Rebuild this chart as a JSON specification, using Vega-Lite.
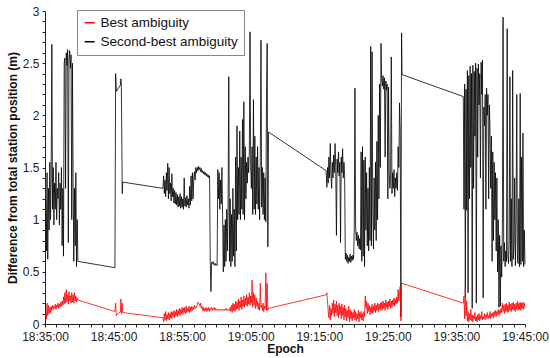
{
"$schema":"https://vega.github.io/schema/vega-lite/v6.json",
"width":480,"height":313,
"autosize":{"type":"none"},
"padding":{"left":45,"top":11,"right":25,"bottom":34},
"config":{"view":{"stroke":null},"font":"Liberation Sans",
"axis":{"labelFont":"Liberation Sans","labelFontSize":12,"labelColor":"#222","titleFont":"Liberation Sans","titleFontSize":12,"titleFontWeight":"bold","titleColor":"#111","domainColor":"#222","tickColor":"#222","tickSize":3,"grid":false,"labelPadding":3}},
"data":{"values":[
{"s":6,"k":1.2,"r":0.12},{"s":12,"k":0.7,"r":0.05},{"s":18,"k":1.45,"r":0.2},{"s":24,"k":0.62,"r":0.08},{"s":30,"k":1.3,"r":0.18},{"s":36,"k":0.9,"r":0.1},{"s":42,"k":1.55,"r":0.16},{"s":48,"k":1.0,"r":0.11},{"s":54,"k":1.4,"r":0.17},{"s":60,"k":2.68,"r":0.13},{"s":66,"k":1.1,"r":0.18},{"s":72,"k":1.5,"r":0.14},{"s":78,"k":0.95,"r":0.17},{"s":84,"k":1.35,"r":0.15},{"s":90,"k":1.1,"r":0.19},{"s":96,"k":1.55,"r":0.14},{"s":102,"k":1.0,"r":0.18},{"s":108,"k":1.3,"r":0.16},{"s":114,"k":1.2,"r":0.2},{"s":120,"k":1.45,"r":0.15},{"s":126,"k":0.95,"r":0.19},{"s":132,"k":1.35,"r":0.16},{"s":138,"k":1.1,"r":0.21},{"s":144,"k":1.5,"r":0.17},{"s":150,"k":0.75,"r":0.22},{"s":156,"k":1.3,"r":0.18},{"s":162,"k":0.65,"r":0.26},{"s":168,"k":2.5,"r":0.19},{"s":174,"k":2.55,"r":0.3},{"s":180,"k":1.3,"r":0.2},{"s":186,"k":2.6,"r":0.33},{"s":192,"k":2.48,"r":0.21},{"s":198,"k":2.63,"r":0.28},{"s":204,"k":0.78,"r":0.19},{"s":210,"k":2.55,"r":0.31},{"s":216,"k":2.62,"r":0.22},{"s":222,"k":2.45,"r":0.27},{"s":228,"k":2.58,"r":0.2},{"s":234,"k":1.0,"r":0.3},{"s":240,"k":2.5,"r":0.21},{"s":246,"k":1.4,"r":0.28},{"s":252,"k":0.6,"r":0.2},{"s":258,"k":1.3,"r":0.3},{"s":264,"k":0.75,"r":0.22},{"s":270,"k":1.45,"r":0.27},{"s":276,"k":0.55,"r":0.21},{"s":282,"k":1.0,"r":0.25},{"s":288,"k":0.6,"r":0.23},
{"s":612,"k":0.54,"r":0.12},{"s":618,"k":2.4,"r":0.2},{"s":624,"k":2.23,"r":0.08},{"s":660,"k":2.29,"r":0.12},{"s":664,"k":2.35,"r":0.24},{"s":668,"k":2.3,"r":0.1},{"s":676,"k":1.25,"r":0.2},{"s":680,"k":1.36,"r":0.11},
{"s":1032,"k":1.3,"r":0.06},{"s":1038,"k":1.42,"r":0.02},{"s":1044,"k":1.25,"r":0.1},{"s":1050,"k":1.38,"r":0.04},{"s":1056,"k":1.22,"r":0.12},{"s":1062,"k":1.45,"r":0.03},{"s":1068,"k":1.28,"r":0.09},{"s":1074,"k":1.54,"r":0.05},{"s":1080,"k":1.2,"r":0.11},{"s":1086,"k":1.5,"r":0.04},{"s":1092,"k":1.25,"r":0.1},{"s":1098,"k":1.35,"r":0.06},{"s":1104,"k":1.18,"r":0.12},{"s":1110,"k":1.44,"r":0.05},{"s":1116,"k":1.22,"r":0.11},{"s":1122,"k":1.3,"r":0.07},{"s":1128,"k":1.16,"r":0.13},{"s":1134,"k":1.28,"r":0.06},{"s":1140,"k":1.15,"r":0.12},{"s":1146,"k":1.26,"r":0.08},{"s":1152,"k":1.14,"r":0.14},{"s":1158,"k":1.24,"r":0.07},{"s":1164,"k":1.12,"r":0.13},{"s":1170,"k":1.22,"r":0.09},{"s":1176,"k":1.13,"r":0.15},{"s":1182,"k":1.25,"r":0.08},{"s":1188,"k":1.11,"r":0.14},{"s":1194,"k":1.22,"r":0.1},{"s":1200,"k":1.12,"r":0.16},{"s":1206,"k":1.2,"r":0.09},{"s":1212,"k":1.1,"r":0.15},{"s":1218,"k":1.4,"r":0.11},{"s":1224,"k":1.13,"r":0.16},{"s":1230,"k":1.21,"r":0.1},{"s":1236,"k":1.12,"r":0.17},{"s":1242,"k":1.23,"r":0.11},{"s":1248,"k":1.14,"r":0.15},{"s":1254,"k":1.2,"r":0.12},{"s":1260,"k":1.11,"r":0.17},{"s":1266,"k":1.32,"r":0.11},{"s":1272,"k":1.14,"r":0.16},{"s":1278,"k":1.42,"r":0.12},{"s":1284,"k":1.18,"r":0.17},{"s":1290,"k":1.45,"r":0.13},{"s":1296,"k":1.2,"r":0.16},{"s":1302,"k":1.4,"r":0.14},{"s":1308,"k":1.46,"r":0.18},{"s":1314,"k":1.38,"r":0.15},{"s":1320,"k":1.5,"r":0.17},{"s":1326,"k":1.45,"r":0.16},{"s":1332,"k":1.5,"r":0.18},{"s":1338,"k":1.47,"r":0.21},{"s":1344,"k":1.51,"r":0.2},{"s":1350,"k":1.48,"r":0.19},{"s":1356,"k":1.5,"r":0.17},{"s":1362,"k":1.46,"r":0.2},{"s":1368,"k":1.49,"r":0.15},{"s":1374,"k":1.45,"r":0.17},{"s":1380,"k":1.47,"r":0.13},{"s":1386,"k":1.44,"r":0.16},{"s":1392,"k":1.46,"r":0.12},{"s":1398,"k":1.43,"r":0.15},{"s":1404,"k":1.45,"r":0.13},{"s":1410,"k":1.42,"r":0.16},{"s":1416,"k":1.44,"r":0.12},{"s":1422,"k":1.41,"r":0.15},{"s":1428,"k":1.43,"r":0.13},{"s":1434,"k":1.4,"r":0.16},{"s":1440,"k":1.42,"r":0.12},{"s":1446,"k":0.6,"r":0.15},{"s":1452,"k":0.31,"r":0.14},{"s":1458,"k":0.59,"r":0.16},{"s":1464,"k":0.58,"r":0.13},{"s":1470,"k":0.6,"r":0.15},{"s":1476,"k":0.57,"r":0.14},{"s":1482,"k":0.58,"r":0.16},{"s":1488,"k":0.56,"r":0.13},{"s":1494,"k":0.58,"r":0.15},{"s":1500,"k":0.57,"r":0.14},{"s":1506,"k":0.56,"r":0.13},{"s":1512,"k":1.48,"r":0.14},{"s":1518,"k":1.2,"r":0.13},{"s":1524,"k":1.45,"r":0.14},{"s":1530,"k":1.1,"r":0.13},{"s":1536,"k":1.38,"r":0.14},{"s":1542,"k":1.15,"r":0.13},{"s":1548,"k":1.5,"r":0.14},{"s":1554,"k":1.05,"r":0.13},{"s":1560,"k":0.5,"r":0.14},{"s":1566,"k":0.95,"r":0.13},{"s":1572,"k":0.55,"r":0.14},{"s":1578,"k":1.0,"r":0.13},{"s":1584,"k":0.6,"r":0.15},{"s":1590,"k":1.1,"r":0.13},{"s":1596,"k":0.7,"r":0.14},{"s":1602,"k":1.15,"r":0.13},{"s":1608,"k":2.37,"r":0.14},{"s":1614,"k":0.6,"r":0.13},{"s":1620,"k":1.2,"r":0.16},{"s":1626,"k":0.55,"r":0.12},{"s":1632,"k":1.05,"r":0.18},{"s":1638,"k":0.6,"r":0.11},{"s":1644,"k":1.3,"r":0.2},{"s":1650,"k":0.65,"r":0.13},{"s":1656,"k":1.1,"r":0.19},{"s":1662,"k":0.55,"r":0.12},{"s":1668,"k":1.6,"r":0.22},{"s":1674,"k":0.7,"r":0.14},{"s":1680,"k":1.9,"r":0.21},{"s":1686,"k":1.0,"r":0.15},{"s":1692,"k":1.5,"r":0.24},{"s":1698,"k":1.05,"r":0.13},{"s":1704,"k":1.85,"r":0.22},{"s":1710,"k":1.0,"r":0.16},{"s":1716,"k":1.6,"r":0.26},{"s":1722,"k":1.1,"r":0.14},{"s":1728,"k":1.96,"r":0.23},{"s":1734,"k":1.05,"r":0.17},{"s":1740,"k":2.13,"r":0.27},{"s":1746,"k":1.0,"r":0.16},{"s":1752,"k":1.7,"r":0.25},{"s":1758,"k":1.2,"r":0.18},{"s":1764,"k":1.55,"r":0.28},{"s":1770,"k":1.35,"r":0.17},{"s":1776,"k":1.6,"r":0.26},{"s":1782,"k":1.45,"r":0.19},{"s":1788,"k":1.65,"r":0.3},{"s":1794,"k":2.8,"r":0.18},{"s":1800,"k":1.5,"r":0.27},{"s":1806,"k":1.3,"r":0.2},{"s":1812,"k":1.7,"r":0.42},{"s":1818,"k":1.05,"r":0.16},{"s":1824,"k":2.15,"r":0.3},{"s":1830,"k":1.1,"r":0.18},{"s":1836,"k":1.8,"r":0.28},{"s":1842,"k":1.05,"r":0.15},{"s":1848,"k":1.6,"r":0.25},{"s":1854,"k":1.15,"r":0.17},{"s":1860,"k":1.7,"r":0.22},{"s":1866,"k":1.1,"r":0.14},{"s":1872,"k":1.5,"r":0.2},{"s":1878,"k":1.0,"r":0.13},{"s":1884,"k":1.65,"r":0.39},{"s":1890,"k":2.72,"r":0.16},{"s":1896,"k":1.12,"r":0.18},{"s":1902,"k":1.5,"r":0.13},{"s":1908,"k":1.05,"r":0.2},{"s":1914,"k":1.45,"r":0.12},{"s":1920,"k":1.0,"r":0.17},{"s":1926,"k":1.4,"r":0.14},{"s":1932,"k":0.98,"r":0.49},{"s":1938,"k":2.15,"r":0.13},{"s":1944,"k":2.69,"r":0.39},{"s":1950,"k":0.74,"r":0.13},{"s":1956,"k":1.84,"r":0.15},
{"s":2460,"k":1.47,"r":0.28},{"s":2466,"k":1.31,"r":0.3},{"s":2472,"k":1.5,"r":0.22},{"s":2478,"k":1.35,"r":0.12},{"s":2484,"k":1.6,"r":0.06},{"s":2490,"k":1.4,"r":0.18},{"s":2496,"k":1.73,"r":0.04},{"s":2502,"k":1.45,"r":0.15},{"s":2508,"k":1.3,"r":0.08},{"s":2514,"k":1.55,"r":0.2},{"s":2520,"k":1.4,"r":0.1},{"s":2526,"k":1.62,"r":0.23},{"s":2532,"k":1.45,"r":0.07},{"s":2538,"k":1.73,"r":0.19},{"s":2544,"k":1.5,"r":0.11},{"s":2550,"k":0.85,"r":0.22},{"s":2556,"k":1.58,"r":0.08},{"s":2562,"k":1.45,"r":0.18},{"s":2568,"k":1.65,"r":0.06},{"s":2574,"k":1.42,"r":0.2},{"s":2580,"k":1.55,"r":0.09},{"s":2586,"k":0.78,"r":0.17},{"s":2592,"k":1.6,"r":0.05},{"s":2598,"k":1.45,"r":0.19},{"s":2604,"k":1.68,"r":0.08},{"s":2610,"k":1.4,"r":0.16},{"s":2616,"k":1.55,"r":0.04},{"s":2622,"k":1.42,"r":0.18},{"s":2628,"k":0.62,"r":0.07},{"s":2634,"k":0.68,"r":0.15},{"s":2640,"k":0.6,"r":0.03},{"s":2646,"k":0.66,"r":0.13},{"s":2652,"k":0.58,"r":0.06},{"s":2658,"k":0.64,"r":0.17},{"s":2664,"k":0.6,"r":0.02},{"s":2670,"k":0.67,"r":0.14},{"s":2676,"k":0.59,"r":0.05},{"s":2682,"k":0.65,"r":0.12},{"s":2688,"k":0.61,"r":0.03},{"s":2694,"k":0.66,"r":0.11},{"s":2700,"k":0.62,"r":0.06},{"s":2706,"k":0.9,"r":0.14},{"s":2712,"k":2.26,"r":0.04},{"s":2718,"k":0.93,"r":0.12},{"s":2724,"k":0.8,"r":0.03},{"s":2730,"k":0.88,"r":0.1},{"s":2736,"k":0.75,"r":0.05},{"s":2742,"k":0.85,"r":0.13},{"s":2748,"k":0.72,"r":0.02},{"s":2754,"k":0.82,"r":0.11},{"s":2760,"k":0.71,"r":0.06},{"s":2766,"k":1.65,"r":0.12},{"s":2772,"k":0.6,"r":0.04},{"s":2778,"k":1.7,"r":0.1},{"s":2784,"k":0.65,"r":0.03},{"s":2790,"k":1.57,"r":0.12},{"s":2796,"k":0.55,"r":0.07},{"s":2802,"k":1.6,"r":0.27},{"s":2808,"k":0.9,"r":0.15},{"s":2814,"k":1.45,"r":0.22},{"s":2820,"k":0.75,"r":0.1},{"s":2826,"k":1.3,"r":0.2},{"s":2832,"k":0.7,"r":0.12},{"s":2838,"k":1.5,"r":0.18},{"s":2844,"k":0.8,"r":0.09},{"s":2850,"k":2.66,"r":0.16},{"s":2856,"k":0.75,"r":0.11},{"s":2862,"k":2.61,"r":0.19},{"s":2868,"k":1.1,"r":0.1},{"s":2874,"k":0.72,"r":0.17},{"s":2880,"k":1.4,"r":0.12},{"s":2886,"k":0.9,"r":0.2},{"s":2892,"k":1.55,"r":0.11},{"s":2898,"k":0.8,"r":0.18},{"s":2904,"k":1.75,"r":0.13},{"s":2910,"k":1.0,"r":0.2},{"s":2916,"k":2.0,"r":0.12},{"s":2922,"k":1.2,"r":0.19},{"s":2928,"k":2.3,"r":0.14},{"s":2934,"k":1.5,"r":0.2},{"s":2940,"k":2.69,"r":0.13},{"s":2946,"k":2.35,"r":0.21},{"s":2952,"k":2.28,"r":0.14},{"s":2958,"k":2.38,"r":0.22},{"s":2964,"k":2.25,"r":0.15},{"s":2970,"k":2.36,"r":0.2},{"s":2976,"k":1.6,"r":0.13},{"s":2982,"k":2.33,"r":0.23},{"s":2988,"k":2.24,"r":0.16},{"s":2994,"k":2.3,"r":0.21},{"s":3000,"k":1.2,"r":0.14},{"s":3006,"k":2.27,"r":0.22},{"s":3012,"k":1.45,"r":0.17},{"s":3018,"k":1.3,"r":0.24},{"s":3024,"k":1.42,"r":0.15},{"s":3030,"k":2.56,"r":0.22},{"s":3036,"k":1.25,"r":0.16},{"s":3042,"k":1.45,"r":0.23},{"s":3048,"k":1.3,"r":0.18},{"s":3054,"k":1.48,"r":0.25},{"s":3060,"k":1.22,"r":0.17},{"s":3066,"k":1.4,"r":0.24},{"s":3072,"k":1.3,"r":0.19},{"s":3078,"k":1.45,"r":0.26},{"s":3084,"k":1.28,"r":0.2},{"s":3090,"k":1.7,"r":0.33},{"s":3096,"k":1.5,"r":0.22},{"s":3102,"k":2.12,"r":0.28},{"s":3108,"k":1.85,"r":0.36},{"s":3114,"k":0.07,"r":0.03},{"s":3120,"k":2.79,"r":0.39},{"s":3124,"k":2.39,"r":0.39},
{"s":3660,"k":2.18,"r":0.2},{"s":3666,"k":1.1,"r":0.27},{"s":3672,"k":2.3,"r":0.05},{"s":3678,"k":0.26,"r":0.35},{"s":3684,"k":2.25,"r":0.08},{"s":3690,"k":1.09,"r":0.22},{"s":3696,"k":2.43,"r":0.03},{"s":3702,"k":0.3,"r":0.12},{"s":3708,"k":2.38,"r":0.02},{"s":3714,"k":1.2,"r":0.1},{"s":3720,"k":2.47,"r":0.04},{"s":3726,"k":1.5,"r":0.14},{"s":3732,"k":2.4,"r":0.03},{"s":3738,"k":0.15,"r":0.09},{"s":3744,"k":2.48,"r":0.02},{"s":3750,"k":1.3,"r":0.08},{"s":3756,"k":2.42,"r":0.05},{"s":3762,"k":1.8,"r":0.11},{"s":3768,"k":2.5,"r":0.03},{"s":3774,"k":0.2,"r":0.07},{"s":3780,"k":2.45,"r":0.02},{"s":3786,"k":1.6,"r":0.09},{"s":3792,"k":2.49,"r":0.04},{"s":3798,"k":2.1,"r":0.1},{"s":3804,"k":2.4,"r":0.03},{"s":3810,"k":1.4,"r":0.08},{"s":3816,"k":2.51,"r":0.05},{"s":3822,"k":2.2,"r":0.12},{"s":3828,"k":2.53,"r":0.04},{"s":3834,"k":0.25,"r":0.07},{"s":3840,"k":2.08,"r":0.05},{"s":3846,"k":1.9,"r":0.1},{"s":3852,"k":2.2,"r":0.04},{"s":3858,"k":1.1,"r":0.09},{"s":3864,"k":2.26,"r":0.06},{"s":3870,"k":2.0,"r":0.11},{"s":3876,"k":2.2,"r":0.05},{"s":3882,"k":1.2,"r":0.08},{"s":3888,"k":2.1,"r":0.06},{"s":3894,"k":1.85,"r":0.12},{"s":3900,"k":1.3,"r":0.05},{"s":3906,"k":1.8,"r":0.1},{"s":3912,"k":0.6,"r":0.07},{"s":3918,"k":1.65,"r":0.11},{"s":3924,"k":0.8,"r":0.06},{"s":3930,"k":1.55,"r":0.12},{"s":3936,"k":1.0,"r":0.08},{"s":3942,"k":1.45,"r":0.13},{"s":3948,"k":0.7,"r":0.07},{"s":3954,"k":1.4,"r":0.12},{"s":3960,"k":0.5,"r":0.09},{"s":3966,"k":1.0,"r":0.14},{"s":3972,"k":0.16,"r":0.08},{"s":3978,"k":0.85,"r":0.13},{"s":3984,"k":0.17,"r":0.1},{"s":3990,"k":0.75,"r":0.15},{"s":3996,"k":0.45,"r":0.11},{"s":4002,"k":0.9,"r":0.2},{"s":4008,"k":2.94,"r":0.12},{"s":4014,"k":0.6,"r":0.18},{"s":4020,"k":0.78,"r":0.1},{"s":4026,"k":0.55,"r":0.19},{"s":4032,"k":0.7,"r":0.12},{"s":4038,"k":0.6,"r":0.2},{"s":4044,"k":2.83,"r":0.11},{"s":4050,"k":0.65,"r":0.18},{"s":4056,"k":0.58,"r":0.12},{"s":4062,"k":0.8,"r":0.21},{"s":4068,"k":2.37,"r":0.13},{"s":4074,"k":0.6,"r":0.19},{"s":4080,"k":1.2,"r":0.12},{"s":4086,"k":0.55,"r":0.2},{"s":4092,"k":2.43,"r":0.14},{"s":4098,"k":0.62,"r":0.21},{"s":4104,"k":0.75,"r":0.13},{"s":4110,"k":1.4,"r":0.19},{"s":4116,"k":0.56,"r":0.12},{"s":4122,"k":1.0,"r":0.2},{"s":4128,"k":2.2,"r":0.14},{"s":4134,"k":0.6,"r":0.22},{"s":4140,"k":0.58,"r":0.13},{"s":4146,"k":1.2,"r":0.2},{"s":4152,"k":0.55,"r":0.14},{"s":4158,"k":2.21,"r":0.21},{"s":4164,"k":0.57,"r":0.13},{"s":4170,"k":1.6,"r":0.2},{"s":4176,"k":0.6,"r":0.15},{"s":4182,"k":1.83,"r":0.21},{"s":4188,"k":0.55,"r":0.14},{"s":4194,"k":0.9,"r":0.2},{"s":4200,"k":0.57,"r":0.16}
]},
"transform":[{"fold":["r","k"],"as":["key","v"]}],
"encoding":{
"x":{"field":"s","type":"quantitative","scale":{"domain":[0,4200],"nice":false,"zero":false},
"axis":{"title":"Epoch","titlePadding":1,"labelOverlap":false,"labelFlush":false,"labelBound":false,"labelPadding":4,
"values":[0,100,200,300,400,500,600,700,800,900,1000,1100,1200,1300,1400,1500,1600,1700,1800,1900,2000,2100,2200,2300,2400,2500,2600,2700,2800,2900,3000,3100,3200,3300,3400,3500,3600,3700,3800,3900,4000,4100,4200],
"labelExpr":"datum.value % 600 == 0 ? timeFormat(datetime(2000,0,1,18,35,datum.value),'%H:%M:%S') : ''"}},
"y":{"field":"v","type":"quantitative","scale":{"domain":[0,3],"nice":false},
"axis":{"title":"Difference from total station position (m)","titlePadding":3,"labelOverlap":false,"labelFlush":false,
"values":[0,0.1,0.2,0.3,0.4,0.5,0.6,0.7,0.8,0.9,1,1.1,1.2,1.3,1.4,1.5,1.6,1.7,1.8,1.9,2,2.1,2.2,2.3,2.4,2.5,2.6,2.7,2.8,2.9,3],
"labelExpr":"round(datum.value*10) % 5 == 0 ? format(datum.value,'~g') : ''"}},
"color":{"field":"key","type":"nominal","scale":{"domain":["r","k"],"range":["#ff0000","#000000"]},
"legend":{"orient":"none","legendX":32,"legendY":-1,"title":null,"strokeColor":"#888","fillColor":"white","padding":6,"symbolType":"stroke","symbolSize":100,"symbolStrokeWidth":1.5,"labelFontSize":13.5,"labelFont":"Liberation Sans","labelColor":"#111","labelOffset":4,"rowPadding":4,
"labelExpr":"datum.label == 'r' ? 'Best ambiguity' : 'Second-best ambiguity'"}}
},
"layer":[
{"transform":[{"filter":"datum.key == 'k'"}],"mark":{"type":"line","strokeWidth":0.8,"interpolate":"linear"}},
{"transform":[{"filter":"datum.key == 'r'"}],"mark":{"type":"line","strokeWidth":0.8,"interpolate":"linear"}}
]
}
